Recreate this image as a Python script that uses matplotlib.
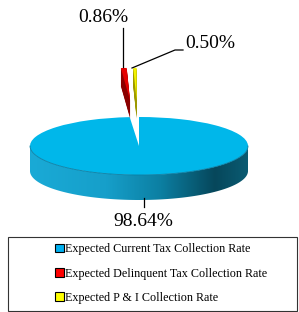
import numpy as np
import matplotlib
matplotlib.use("Agg")
import matplotlib.pyplot as plt
from matplotlib.patches import Patch, Rectangle, Polygon, Wedge
from matplotlib.transforms import Affine2D
from matplotlib.colors import LinearSegmentedColormap

# ---- data ----
categories = ["Expected Current Tax Collection Rate",
              "Expected Delinquent Tax Collection Rate",
              "Expected P & I Collection Rate"]
values = [98.64, 0.86, 0.50]
labels = ["98.64%", "0.86%", "0.50%"]

top_colors = ["#00B7EA", "#E50000", "#F2F200"]
side_colors = ["#0A86AD", "#8A0000", "#9C9800"]
legend_colors = ["#00B0F0", "#FF0000", "#FFFF00"]

W, H = 299, 312
fig = plt.figure(figsize=(W / 100, H / 100), dpi=100)
ax = fig.add_axes([0, 0, 1, 1])

cx, cy = 139, H - 146
R = 109.0
b = 29.0
depth = 25
ky = b / R
ky_s = 0.30
sl_depth = 18
expl = 1.39 * R

wedges, _ = ax.pie(values, explode=[0, expl, expl], startangle=90,
                   counterclock=False, colors=top_colors, center=(cx, cy),
                   radius=R, frame=True, wedgeprops=dict(linewidth=0))

def squash(k, dy=0.0):
    return (Affine2D().translate(-cx, -cy).scale(1, k).translate(cx, cy + dy)
            + ax.transData)

# blue body side with gradient
th = np.linspace(np.pi, 2 * np.pi, 200)
top_arc = np.column_stack([cx + R * np.cos(th), cy + b * np.sin(th)])
bot_arc = np.column_stack([cx + R * np.cos(th[::-1]), cy - depth + b * np.sin(th[::-1])])
side_poly = Polygon(np.vstack([top_arc, bot_arc]), closed=True,
                    facecolor="none", edgecolor="none")
ax.add_patch(side_poly)
cmap = LinearSegmentedColormap.from_list(
    "side", [(0, "#1AAAD6"), (0.35, "#169FCA"), (0.6, "#0C7FA2"),
             (0.85, "#06475B"), (1.0, "#0B5B72")])
grad = np.linspace(0, 1, 256).reshape(1, -1)
im = ax.imshow(grad, cmap=cmap, aspect="auto",
               extent=[cx - R, cx + R, cy - b - depth, cy + 1], zorder=1)
im.set_clip_path(side_poly)

# blue top face
wedges[0].set_transform(squash(ky))
wedges[0].set_zorder(2)
ax.plot(top_arc[:, 0], top_arc[:, 1], color="#0A7EA3", lw=0.6, zorder=3)

# exploded slivers with extrusion
for i in (1, 2):
    w = wedges[i]
    for k in range(sl_depth, 0, -1):
        cp = Wedge(w.center, w.r, w.theta1, w.theta2, facecolor=side_colors[i],
                   edgecolor="none", linewidth=0, zorder=4)
        cp.set_transform(squash(ky_s, -k))
        ax.add_patch(cp)
    w.set_transform(squash(ky_s))
    w.set_zorder(5)

# labels and leader lines
font = dict(family="Liberation Serif", fontsize=14, color="black")
ax.text(103, H - 18, labels[1], ha="center", va="center", **font)
ax.text(185, H - 43, labels[2], ha="left", va="center", **font)
ax.text(143, H - 221, labels[0], ha="center", va="center", **font)
ax.plot([123, 123], [H - 28, H - 67], color="black", lw=0.9, zorder=6)
ax.plot([132, 175, 183], [H - 68, H - 50, H - 50], color="black", lw=0.9, zorder=6)
ax.plot([144, 144], [H - 198, H - 207], color="black", lw=0.9, zorder=6)

# legend box
ax.add_patch(Rectangle((8, H - 311), 288.5, 74, facecolor="white",
                       edgecolor="#333333", lw=0.8, zorder=6))
handles = [Patch(facecolor=c, edgecolor="black", linewidth=0.8) for c in legend_colors]
leg = ax.legend(handles, categories, loc="center", bbox_to_anchor=(161 / W, (H - 273.5) / H),
                frameon=False, handlelength=0.7, handleheight=0.7, handletextpad=0.1,
                labelspacing=1.0, prop=dict(family="Liberation Serif", size=8.7))
leg.set_zorder(7)

ax.set_xlim(0, W)
ax.set_ylim(0, H)
ax.set_aspect("auto")
ax.axis("off")
fig.savefig("out.png", dpi=100)
